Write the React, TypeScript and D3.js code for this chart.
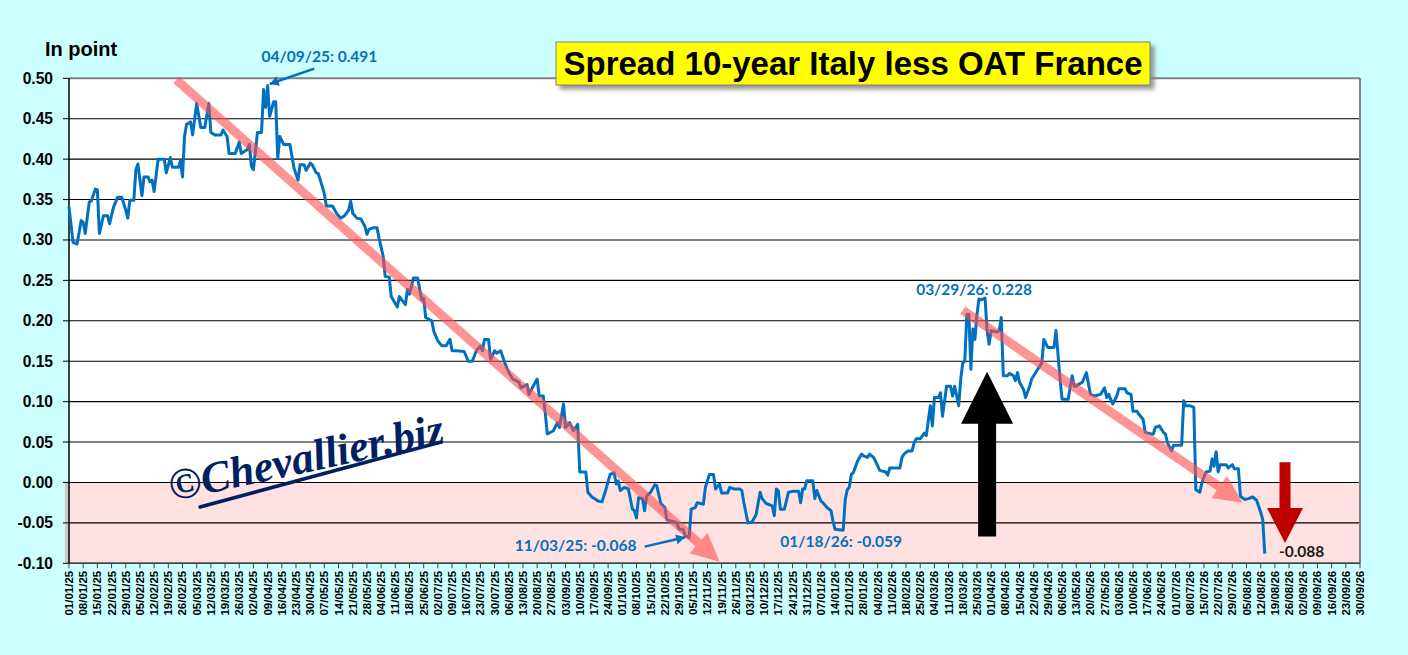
import { useEffect } from 'react'
import * as d3 from 'd3'

// spread 10y Italy (BTP) less 10y France (OAT), in points
const dates = [
  '2025-01-01', '2025-01-03', '2025-01-05', '2025-01-07', '2025-01-08', '2025-01-09', '2025-01-11', '2025-01-12',
  '2025-01-14', '2025-01-15', '2025-01-16', '2025-01-18', '2025-01-20', '2025-01-21', '2025-01-23', '2025-01-25',
  '2025-01-27', '2025-01-29', '2025-01-30', '2025-01-31', '2025-02-02', '2025-02-03', '2025-02-04', '2025-02-06',
  '2025-02-07', '2025-02-09', '2025-02-10', '2025-02-11', '2025-02-12', '2025-02-14', '2025-02-17', '2025-02-18',
  '2025-02-20', '2025-02-21', '2025-02-24', '2025-02-25', '2025-02-26', '2025-02-27', '2025-02-28', '2025-03-02',
  '2025-03-03', '2025-03-05', '2025-03-07', '2025-03-09', '2025-03-11', '2025-03-12', '2025-03-14', '2025-03-17',
  '2025-03-18', '2025-03-20', '2025-03-21', '2025-03-24', '2025-03-26', '2025-03-27', '2025-03-30', '2025-03-31',
  '2025-04-01', '2025-04-02', '2025-04-04', '2025-04-06', '2025-04-07', '2025-04-08', '2025-04-09', '2025-04-10',
  '2025-04-12', '2025-04-13', '2025-04-14', '2025-04-15', '2025-04-17', '2025-04-20', '2025-04-22', '2025-04-24',
  '2025-04-25', '2025-04-27', '2025-04-28', '2025-04-30', '2025-05-01', '2025-05-03', '2025-05-04', '2025-05-06',
  '2025-05-07', '2025-05-08', '2025-05-11', '2025-05-13', '2025-05-15', '2025-05-17', '2025-05-19', '2025-05-20',
  '2025-05-21', '2025-05-23', '2025-05-25', '2025-05-27', '2025-05-28', '2025-05-29', '2025-05-31', '2025-06-02',
  '2025-06-03', '2025-06-05', '2025-06-06', '2025-06-08', '2025-06-09', '2025-06-12', '2025-06-13', '2025-06-16',
  '2025-06-17', '2025-06-18', '2025-06-20', '2025-06-22', '2025-06-24', '2025-06-25', '2025-06-26', '2025-06-29',
  '2025-06-30', '2025-07-02', '2025-07-04', '2025-07-06', '2025-07-08', '2025-07-09', '2025-07-11', '2025-07-15',
  '2025-07-17', '2025-07-19', '2025-07-21', '2025-07-23', '2025-07-24', '2025-07-25', '2025-07-27', '2025-07-28',
  '2025-07-30', '2025-07-31', '2025-08-02', '2025-08-04', '2025-08-06', '2025-08-08', '2025-08-11', '2025-08-12',
  '2025-08-15', '2025-08-16', '2025-08-18', '2025-08-20', '2025-08-21', '2025-08-23', '2025-08-24', '2025-08-25',
  '2025-08-28', '2025-08-30', '2025-08-31', '2025-09-02', '2025-09-03', '2025-09-05', '2025-09-07', '2025-09-09',
  '2025-09-10', '2025-09-13', '2025-09-14', '2025-09-16', '2025-09-18', '2025-09-19', '2025-09-21', '2025-09-23',
  '2025-09-25', '2025-09-27', '2025-09-28', '2025-09-29', '2025-09-30', '2025-10-02', '2025-10-04', '2025-10-06',
  '2025-10-07', '2025-10-08', '2025-10-09', '2025-10-11', '2025-10-12', '2025-10-13', '2025-10-15', '2025-10-17',
  '2025-10-18', '2025-10-20', '2025-10-22', '2025-10-23', '2025-10-25', '2025-10-27', '2025-10-28', '2025-10-29',
  '2025-10-31', '2025-11-01', '2025-11-03', '2025-11-04', '2025-11-06', '2025-11-07', '2025-11-10', '2025-11-11',
  '2025-11-13', '2025-11-15', '2025-11-16', '2025-11-18', '2025-11-19', '2025-11-22', '2025-11-23', '2025-11-25',
  '2025-11-28', '2025-11-29', '2025-11-30', '2025-12-02', '2025-12-04', '2025-12-06', '2025-12-08', '2025-12-09',
  '2025-12-11', '2025-12-14', '2025-12-15', '2025-12-16', '2025-12-17', '2025-12-18', '2025-12-20', '2025-12-22',
  '2025-12-24', '2025-12-27', '2025-12-28', '2025-12-29', '2025-12-30', '2025-12-31', '2026-01-03', '2026-01-04',
  '2026-01-05', '2026-01-07', '2026-01-08', '2026-01-10', '2026-01-12', '2026-01-13', '2026-01-14', '2026-01-18',
  '2026-01-19', '2026-01-20', '2026-01-21', '2026-01-22', '2026-01-23', '2026-01-25', '2026-01-27', '2026-01-28',
  '2026-01-30', '2026-01-31', '2026-02-02', '2026-02-03', '2026-02-05', '2026-02-08', '2026-02-09', '2026-02-10',
  '2026-02-15', '2026-02-16', '2026-02-17', '2026-02-19', '2026-02-21', '2026-02-22', '2026-02-23', '2026-02-25',
  '2026-02-27', '2026-02-28', '2026-03-02', '2026-03-03', '2026-03-04', '2026-03-06', '2026-03-07', '2026-03-08',
  '2026-03-10', '2026-03-12', '2026-03-13', '2026-03-14', '2026-03-16', '2026-03-17', '2026-03-18', '2026-03-19',
  '2026-03-20', '2026-03-21', '2026-03-22', '2026-03-23', '2026-03-24', '2026-03-25', '2026-03-26', '2026-03-27',
  '2026-03-29', '2026-03-30', '2026-03-31', '2026-04-01', '2026-04-04', '2026-04-05', '2026-04-06', '2026-04-07',
  '2026-04-09', '2026-04-10', '2026-04-12', '2026-04-13', '2026-04-14', '2026-04-15', '2026-04-17', '2026-04-18',
  '2026-04-20', '2026-04-21', '2026-04-23', '2026-04-26', '2026-04-27', '2026-04-29', '2026-05-02', '2026-05-03',
  '2026-05-05', '2026-05-06', '2026-05-09', '2026-05-11', '2026-05-12', '2026-05-13', '2026-05-14', '2026-05-16',
  '2026-05-18', '2026-05-20', '2026-05-22', '2026-05-25', '2026-05-27', '2026-05-28', '2026-05-29', '2026-05-31',
  '2026-06-02', '2026-06-03', '2026-06-06', '2026-06-07', '2026-06-09', '2026-06-10', '2026-06-12', '2026-06-13',
  '2026-06-15', '2026-06-16', '2026-06-19', '2026-06-20', '2026-06-21', '2026-06-23', '2026-06-25', '2026-06-26',
  '2026-06-27', '2026-06-29', '2026-06-30', '2026-07-02', '2026-07-04', '2026-07-05', '2026-07-06', '2026-07-08',
  '2026-07-10', '2026-07-11', '2026-07-13', '2026-07-14', '2026-07-16', '2026-07-18', '2026-07-19', '2026-07-20',
  '2026-07-21', '2026-07-22', '2026-07-23', '2026-07-26', '2026-07-27', '2026-07-29', '2026-07-30', '2026-08-01',
  '2026-08-02', '2026-08-04', '2026-08-06', '2026-08-08', '2026-08-10', '2026-08-12', '2026-08-13', '2026-08-14',
]

const spread = [
  0.341, 0.297, 0.295, 0.324, 0.322, 0.308, 0.347, 0.348,
  0.363, 0.362, 0.308, 0.330, 0.330, 0.320, 0.341, 0.353,
  0.353, 0.337, 0.327, 0.349, 0.349, 0.387, 0.394, 0.355,
  0.378, 0.378, 0.372, 0.374, 0.360, 0.400, 0.400, 0.383,
  0.402, 0.390, 0.390, 0.398, 0.378, 0.428, 0.443, 0.446,
  0.430, 0.469, 0.439, 0.439, 0.469, 0.433, 0.430, 0.430,
  0.436, 0.428, 0.407, 0.407, 0.421, 0.407, 0.412, 0.418,
  0.391, 0.387, 0.433, 0.433, 0.486, 0.464, 0.491, 0.453,
  0.471, 0.471, 0.401, 0.428, 0.418, 0.418, 0.389, 0.374,
  0.393, 0.393, 0.386, 0.395, 0.393, 0.383, 0.382, 0.366,
  0.357, 0.342, 0.342, 0.333, 0.327, 0.330, 0.337, 0.348,
  0.333, 0.327, 0.326, 0.317, 0.307, 0.313, 0.315, 0.315,
  0.302, 0.280, 0.255, 0.254, 0.230, 0.217, 0.230, 0.220,
  0.239, 0.233, 0.253, 0.253, 0.226, 0.228, 0.204, 0.200,
  0.187, 0.175, 0.169, 0.169, 0.177, 0.163, 0.163, 0.162,
  0.150, 0.150, 0.163, 0.169, 0.163, 0.177, 0.177, 0.152,
  0.163, 0.160, 0.163, 0.148, 0.136, 0.128, 0.124, 0.117,
  0.121, 0.109, 0.119, 0.128, 0.107, 0.107, 0.086, 0.060,
  0.064, 0.074, 0.068, 0.097, 0.068, 0.074, 0.064, 0.072,
  0.013, 0.013, -0.012, -0.018, -0.021, -0.023, -0.024, -0.008,
  0.010, 0.012, -0.002, 0.002, -0.010, -0.006, -0.008, -0.033,
  -0.035, -0.044, -0.019, -0.020, -0.035, -0.017, -0.012, -0.003,
  -0.004, -0.026, -0.031, -0.046, -0.048, -0.049, -0.050, -0.058,
  -0.058, -0.066, -0.068, -0.033, -0.031, -0.025, -0.027, -0.006,
  0.010, 0.010, -0.008, -0.002, -0.013, -0.013, -0.006, -0.008,
  -0.008, -0.010, -0.025, -0.050, -0.049, -0.040, -0.012, -0.020,
  -0.026, -0.029, -0.041, -0.008, -0.010, -0.033, -0.033, -0.012,
  -0.011, -0.011, -0.025, -0.008, -0.008, 0.002, 0.002, -0.020,
  -0.010, -0.023, -0.025, -0.031, -0.035, -0.048, -0.058, -0.059,
  -0.021, -0.009, -0.006, 0.010, 0.012, 0.026, 0.035, 0.033,
  0.031, 0.035, 0.031, 0.026, 0.015, 0.013, 0.009, 0.018,
  0.018, 0.031, 0.035, 0.039, 0.039, 0.049, 0.054, 0.054,
  0.061, 0.058, 0.095, 0.070, 0.105, 0.105, 0.111, 0.082,
  0.119, 0.119, 0.107, 0.119, 0.095, 0.128, 0.148, 0.150,
  0.208, 0.208, 0.140, 0.190, 0.177, 0.208, 0.227, 0.226,
  0.228, 0.188, 0.171, 0.188, 0.186, 0.188, 0.204, 0.132,
  0.132, 0.135, 0.132, 0.126, 0.136, 0.124, 0.115, 0.105,
  0.119, 0.128, 0.136, 0.148, 0.177, 0.167, 0.167, 0.188,
  0.128, 0.103, 0.103, 0.132, 0.119, 0.119, 0.121, 0.124,
  0.136, 0.109, 0.107, 0.109, 0.117, 0.105, 0.109, 0.097,
  0.107, 0.116, 0.116, 0.111, 0.109, 0.088, 0.088, 0.084,
  0.078, 0.062, 0.060, 0.060, 0.068, 0.070, 0.062, 0.060,
  0.049, 0.039, 0.046, 0.046, 0.046, 0.101, 0.095, 0.095,
  0.093, -0.009, -0.012, 0.000, 0.013, 0.014, 0.029, 0.020,
  0.038, 0.013, 0.022, 0.022, 0.018, 0.022, 0.017, 0.017,
  -0.017, -0.021, -0.020, -0.018, -0.022, -0.037, -0.046, -0.088,
]

const axisStart = '2025-01-01'
const axisEnd = '2026-09-30'
const yDomain: [number, number] = [-0.1, 0.5]

// annotation anchors, in chart units (date, value)
const valueLabels = [
  { date: '2025-04-06', value: 0.52, text: '04/09/25: 0.491', color: '#0070C0' },
  { date: '2025-08-09', value: -0.0844, text: '11/03/25: -0.068', color: '#0070C0' },
  { date: '2025-12-18', value: -0.0794, text: '01/18/26: -0.059', color: '#0070C0' },
  { date: '2026-02-23', value: 0.232, text: '03/29/26: 0.228', color: '#0070C0' },
  { date: '2026-08-21', value: -0.0925, text: '-0.088', color: '#1a1a1a' },
]
const pointerArrows = [
  { from: ['2025-05-02', 0.512], to: ['2025-04-10', 0.493] },
  { from: ['2025-10-12', -0.0794], to: ['2025-11-01', -0.0678] },
]
const trendArrows = [
  { from: ['2025-02-23', 0.498], to: ['2025-11-18', -0.098] },
  { from: ['2026-03-18', 0.213], to: ['2026-08-03', -0.025] },
]
const upArrow = { date: '2026-03-30', from: -0.067, to: 0.137 }
const downArrow = { date: '2026-08-24', from: 0.025, to: -0.075 }

const W = 1408
const H = 655
const plot = { left: 69, right: 1360, top: 78.3, bottom: 563.3 }
const FONT = "'Liberation Sans', Arial, sans-serif"
const LABEL_FONT = "Lato, 'Open Sans', sans-serif"

const parse = d3.utcParse('%Y-%m-%d')
const fmtTick = d3.utcFormat('%d/%m/%y')
const fmtY = (v: number) => d3.format('.2f')(v).replace('\u2212', '-')

function arrowPath(x0: number, y0: number, x1: number, y1: number, sw: number, hl: number, hw: number) {
  const L = Math.hypot(x1 - x0, y1 - y0)
  const ux = (x1 - x0) / L, uy = (y1 - y0) / L
  const nx = -uy, ny = ux
  const bx = x1 - ux * hl, by = y1 - uy * hl
  const p = [
    [x0 + nx * sw / 2, y0 + ny * sw / 2],
    [bx + nx * sw / 2, by + ny * sw / 2],
    [bx + nx * hw / 2, by + ny * hw / 2],
    [x1, y1],
    [bx - nx * hw / 2, by - ny * hw / 2],
    [bx - nx * sw / 2, by - ny * sw / 2],
    [x0 - nx * sw / 2, y0 - ny * sw / 2],
  ]
  return 'M' + p.map(d => d[0].toFixed(1) + ',' + d[1].toFixed(1)).join('L') + 'Z'
}

export default function App() {
  useEffect(() => {
    document.body.style.margin = '0'
    document.body.style.overflow = 'hidden'
  }, [])

  const series = dates.map((d, i) => ({ date: parse(d)!, value: spread[i] }))

  const x = d3.scaleUtc()
    .domain([parse(axisStart)!, parse(axisEnd)!])
    .range([plot.left, plot.right])
  const y = d3.scaleLinear().domain(yDomain).range([plot.bottom, plot.top])

  const xTicks = d3.utcWednesday.range(parse(axisStart)!, d3.utcDay.offset(parse(axisEnd)!, 1))
  const yTicks = y.ticks(12)

  const line = d3.line<{ date: Date; value: number }>()
    .x(d => x(d.date))
    .y(d => y(d.value))

  const px = (p: (string | number)[]) => [x(parse(p[0] as string)!), y(p[1] as number)]

  return (
    <svg width={W} height={H} style={{ position: 'absolute', left: 0, top: 0, display: 'block' }}>
      <defs>
        <filter id="shadow" x="-5%" y="-20%" width="115%" height="160%">
          <feDropShadow dx="4" dy="4" stdDeviation="2" floodColor="#7f7f7f" floodOpacity="0.8" />
        </filter>
      </defs>
      <rect x={0} y={0} width={W} height={H} fill="#CCFFFF" />

      {/* plot area */}
      <rect x={plot.left} y={plot.top} width={plot.right - plot.left} height={plot.bottom - plot.top} fill="#fff" />
      <rect x={plot.left - 4} y={y(0)} width={4} height={y(yDomain[0]) - y(0)} fill="#cfc8c8" />
      <rect x={plot.left} y={y(0)} width={plot.right - plot.left} height={y(yDomain[0]) - y(0)} fill="#FFE1E1" />

      {yTicks.map(t => (
        <line key={'g' + t} x1={plot.left} x2={plot.right} y1={y(t)} y2={y(t)}
          stroke={t === yDomain[1] ? '#808080' : '#000'} strokeWidth={t === yDomain[1] ? 2 : 1.1} />
      ))}
      <line x1={plot.right} x2={plot.right} y1={plot.top} y2={plot.bottom} stroke="#808080" strokeWidth={2} />
      <line x1={plot.left} x2={plot.right} y1={plot.bottom} y2={plot.bottom} stroke="#404040" strokeWidth={1.5} />
      <line x1={plot.left} x2={plot.left} y1={plot.top} y2={plot.bottom} stroke="#000" strokeWidth={1.5} />

      {/* y axis */}
      {yTicks.map(t => (
        <g key={'y' + t}>
          <line x1={plot.left - 6} x2={plot.left} y1={y(t)} y2={y(t)} stroke="#000" strokeWidth={1} />
          <text x={53} y={y(t) + 5.5} textAnchor="end" fontFamily={FONT} fontWeight="bold" fontSize={15.6} fill="#000">
            {fmtY(t)}
          </text>
        </g>
      ))}
      <text x={45} y={56} fontFamily={FONT} fontWeight="bold" fontSize={20} fill="#000">In point</text>

      {/* x axis */}
      {xTicks.map(t => (
        <g key={'x' + t.getTime()}>
          <line x1={x(t)} x2={x(t)} y1={plot.bottom} y2={plot.bottom + 5} stroke="#404040" strokeWidth={1} />
          <text transform={`translate(${x(t) + 4},${plot.bottom + 7.5}) rotate(-90)`} textAnchor="end"
            fontFamily={FONT} fontWeight="bold" fontSize={11.5} fill="#000">
            {fmtTick(t)}
          </text>
        </g>
      ))}

      {/* watermark */}
      <g fill="#002060">
        <text transform="translate(172,501) rotate(-12)" fontFamily="'Liberation Serif', 'DejaVu Serif', serif"
          fontStyle="italic" fontWeight="bold" fontSize={44} textLength={280} lengthAdjust="spacingAndGlyphs">
          ©Chevallier.biz
        </text>
        <line x1={200} y1={507} x2={441} y2={442} stroke="#002060" strokeWidth={3.5} strokeLinecap="round" />
      </g>

      {/* series */}
      <path d={line(series) ?? ''} fill="none" stroke="#0070C0" strokeWidth={3} strokeLinejoin="round" />

      {/* trend arrows */}
      {trendArrows.map((a, i) => {
        const [x0, y0] = px(a.from)
        const [x1, y1] = px(a.to)
        return <path key={'t' + i} d={arrowPath(x0, y0, x1, y1, 9, 28, 27)} fill="#FF4D4D" opacity={0.6} />
      })}

      {/* up / down arrows */}
      <path d={arrowPath(x(parse(upArrow.date)!), y(upArrow.from), x(parse(upArrow.date)!), y(upArrow.to), 18, 52, 52)} fill="#000" />
      <path d={arrowPath(x(parse(downArrow.date)!), y(downArrow.from), x(parse(downArrow.date)!), y(downArrow.to), 11, 35, 36)} fill="#C00000" />

      {/* pointer arrows */}
      {pointerArrows.map((a, i) => {
        const [x0, y0] = px(a.from)
        const [x1, y1] = px(a.to)
        return (
          <g key={'p' + i}>
            <line x1={x0} y1={y0} x2={x1} y2={y1} stroke="#0070C0" strokeWidth={2.5} />
            <path d={arrowPath(x0, y0, x1, y1, 0.1, 9, 10)} fill="#0070C0" />
          </g>
        )
      })}

      {valueLabels.map(l => (
        <text key={l.text} x={x(parse(l.date)!)} y={y(l.value)} fontFamily={LABEL_FONT} fontWeight="bold"
          fontSize={15.5} fill={l.color}>
          {l.text}
        </text>
      ))}

      {/* title */}
      <g filter="url(#shadow)">
        <rect x={556} y={42} width={594} height={43} fill="#FFFF00" stroke="#808080" strokeWidth={1} />
      </g>
      <text x={853} y={75} textAnchor="middle" fontFamily={FONT} fontWeight="bold" fontSize={33} fill="#000">
        Spread 10-year Italy less OAT France
      </text>
    </svg>
  )
}
